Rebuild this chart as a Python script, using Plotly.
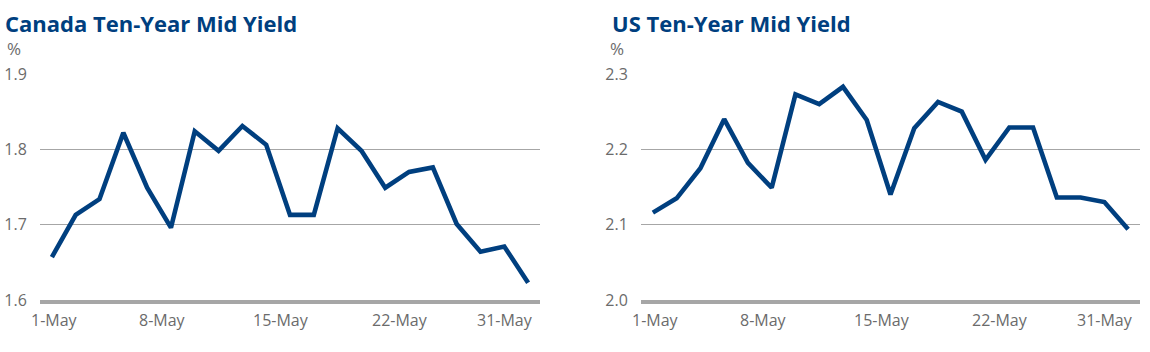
import plotly.graph_objects as go
from plotly.subplots import make_subplots

dates = ["1-May", "2-May", "3-May", "4-May", "5-May", "8-May", "9-May", "10-May",
         "11-May", "12-May", "15-May", "16-May", "17-May", "18-May", "19-May",
         "22-May", "23-May", "24-May", "25-May", "26-May", "31-May"]
tick_labels = ["1-May", "8-May", "15-May", "22-May", "31-May"]

canada = [1.657, 1.713, 1.734, 1.822, 1.749, 1.696, 1.824, 1.798, 1.831, 1.806,
          1.713, 1.713, 1.828, 1.798, 1.749, 1.770, 1.776, 1.701, 1.664, 1.671, 1.623]
us = [2.116, 2.135, 2.175, 2.240, 2.182, 2.149, 2.273, 2.260, 2.283, 2.239,
      2.140, 2.228, 2.263, 2.250, 2.186, 2.229, 2.229, 2.136, 2.136, 2.130, 2.094]

titles = ["Canada Ten-Year Mid Yield", "US Ten-Year Mid Yield"]
canada_ticks = [1.6, 1.7, 1.8, 1.9]
us_ticks = [2.0, 2.1, 2.2, 2.3]

W, H = 1150, 352
ML, MR, MT, MB = 0, 10, 74, 52
PW = W - ML - MR
PH = H - MT - MB

NAVY = "#003f7f"
GRID = "#a6a6a6"
TXT = "#6b6b6b"
FONT = "Segoe UI, Open Sans, sans-serif"

# Excel-style nudges of the category labels (pixels): last one pulled inside the plot
label_nudge = [3, -8, -9, -9, -23]

fig = make_subplots(rows=1, cols=2)
fig.add_trace(go.Scatter(x=dates, y=canada, mode="lines",
                         line=dict(color=NAVY, width=4.6), showlegend=False), row=1, col=1)
fig.add_trace(go.Scatter(x=dates, y=us, mode="lines",
                         line=dict(color=NAVY, width=4.6), showlegend=False), row=1, col=2)

xcommon = dict(type="category", range=[-0.5, len(dates) - 0.5], tickmode="array",
               tickvals=tick_labels, showticklabels=False, showgrid=False,
               showline=True, linecolor=GRID, linewidth=4, ticks="",
               automargin=False, zeroline=False)
fig.update_xaxes(**xcommon)
fig.update_xaxes(domain=[40 / PW, 540 / PW], row=1, col=1)
fig.update_xaxes(domain=[641 / PW, 1.0], row=1, col=2)

ycommon = dict(showgrid=True, gridcolor=GRID, gridwidth=1, zeroline=False,
               showline=False, ticks="outside", ticklen=9, tickcolor="rgba(0,0,0,0)",
               automargin=False,
               tickfont=dict(family=FONT, size=16, color=TXT), domain=[0, 1])
fig.update_yaxes(**ycommon)
fig.update_yaxes(range=[1.6, 1.9], tickmode="array", tickvals=canada_ticks,
                 ticktext=[f"{v:.1f}" for v in canada_ticks], row=1, col=1)
fig.update_yaxes(range=[2.0, 2.3], tickmode="array", tickvals=us_ticks,
                 ticktext=[f"{v:.1f}" for v in us_ticks], row=1, col=2)

def py(px_from_top):
    return 1 + (MT - px_from_top) / PH

annotations = []
for xref in ["x", "x2"]:
    for lab, nudge in zip(tick_labels, label_nudge):
        annotations.append(dict(text=lab, xref=xref, yref="paper", x=lab, y=0,
                                xanchor="center", yanchor="top", xshift=nudge, yshift=-7,
                                showarrow=False,
                                font=dict(family=FONT, size=16, color=TXT)))
for xpix, title in zip([3, 610], titles):
    annotations.append(dict(text=f"<b>{title}</b>", xref="paper", yref="paper",
                            x=(xpix - ML) / PW, y=py(23), xanchor="left", yanchor="middle",
                            showarrow=False,
                            font=dict(family=FONT, size=22, color=NAVY)))
for xpix in [5, 608]:
    annotations.append(dict(text="%", xref="paper", yref="paper",
                            x=(xpix - ML) / PW, y=py(48), xanchor="left", yanchor="middle",
                            showarrow=False,
                            font=dict(family=FONT, size=17, color=TXT)))

fig.update_layout(width=W, height=H, margin=dict(l=ML, r=MR, t=MT, b=MB, autoexpand=False),
                  paper_bgcolor="white", plot_bgcolor="white",
                  annotations=annotations, showlegend=False)

fig.write_html("out.html")
